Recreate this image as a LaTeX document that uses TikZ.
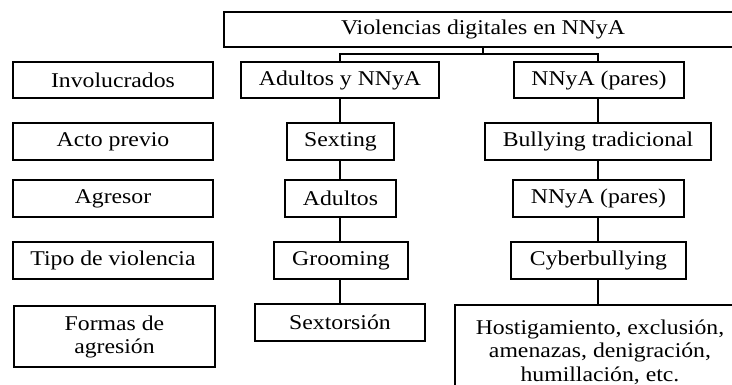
\documentclass[tikz,border=0pt]{standalone}
\usepackage{fontspec}
\setmainfont{Liberation Serif}[FakeStretch=1.13]
\begin{document}
\begin{tikzpicture}[x=1pt,y=-1pt,
  box/.style={draw, line width=2.6pt, inner sep=0pt, align=center, minimum height=37pt,
    font=\fontsize{21}{23}\selectfont},
  conn/.style={line width=2.4pt}]
\useasboundingbox (0,0) rectangle (732,385);
\clip (0,0) rectangle (732,385);
% top
\node[box, line width=2.1pt, minimum width=518pt, minimum height=35pt] (top) at (483,29.5) {Violencias digitales en NNyA};
% left labels
\node[box, minimum width=200pt, minimum height=36pt] (l1) at (113,80) {Involucrados};
\node[box, minimum width=200pt] (l2) at (113,141.5) {Acto previo};
\node[box, minimum width=200pt] (l3) at (113,198.5) {Agresor};
\node[box, minimum width=200pt] (l4) at (113,260.5) {Tipo de violencia};
\node[box, minimum width=201pt, minimum height=61pt] (l5) at (114.5,336.5) {Formas de\\agresión};
% middle column
\node[box, minimum width=198pt, minimum height=36pt] (m1) at (340,80) {Adultos y NNyA};
\node[box, minimum width=107pt] (m2) at (340.5,141.5) {Sexting};
\node[box, minimum width=111pt] (m3) at (340.5,198.5) {Adultos};
\node[box, minimum width=134pt] (m4) at (341,260.5) {Grooming};
\node[box, minimum width=170pt] (m5) at (340,322.5) {Sextorsión};
% right column
\node[box, minimum width=170pt, minimum height=36pt] (r1) at (599,80) {NNyA (pares)};
\node[box, minimum width=226pt] (r2) at (598,141.5) {Bullying tradicional};
\node[box, minimum width=171pt] (r3) at (598.5,198.5) {NNyA (pares)};
\node[box, minimum width=175pt] (r4) at (598.5,260.5) {Cyberbullying};
\node[box, minimum width=290pt, minimum height=94pt, font=\fontsize{21}{23.5}\selectfont] (r5) at (600,352) {Hostigamiento, exclusión,\\amenazas, denigración,\\humillación, etc.};
% connectors
\coordinate (j) at (483,54);
\coordinate (xm) at (340,0);
\coordinate (xr) at (598,0);
\draw[conn] (top.south -| j) -- (j);
\draw[conn] (m1.north -| xm) -- (j -| xm) -- (j -| xr) -- (r1.north -| xr);
\draw[conn] (m1.south -| xm) -- (m2.north -| xm);
\draw[conn] (m2.south -| xm) -- (m3.north -| xm);
\draw[conn] (m3.south -| xm) -- (m4.north -| xm);
\draw[conn] (m4.south -| xm) -- (m5.north -| xm);
\draw[conn] (r1.south -| xr) -- (r2.north -| xr);
\draw[conn] (r2.south -| xr) -- (r3.north -| xr);
\draw[conn] (r3.south -| xr) -- (r4.north -| xr);
\draw[conn] (r4.south -| xr) -- (r5.north -| xr);
\end{tikzpicture}
\end{document}
